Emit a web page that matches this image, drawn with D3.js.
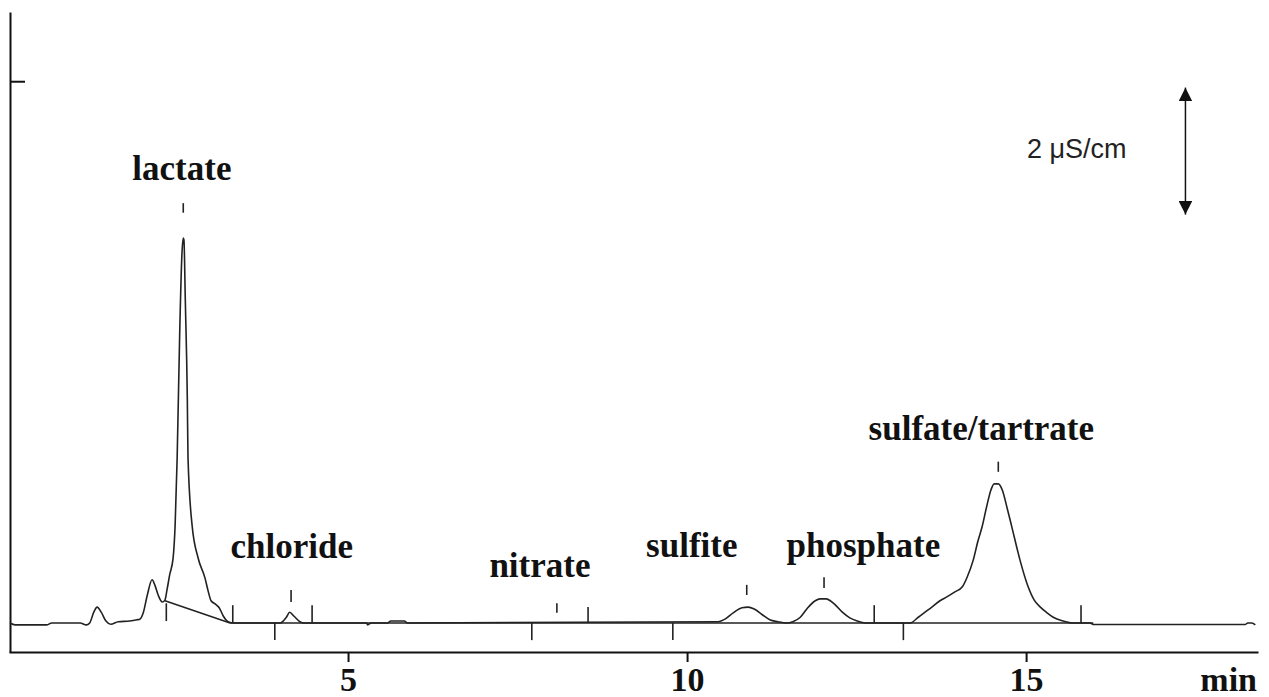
<!DOCTYPE html>
<html><head><meta charset="utf-8">
<script src="https://cdn.jsdelivr.net/npm/d3@7"></script>
<style>body{margin:0;background:#fff} svg{display:block}</style>
</head><body><svg id="c" width="1269" height="697"></svg>
<script>
// Chromatogram trace: retention time (min) and conductivity signal (µS/cm above baseline)
const traceTime = [0.015,0.09,0.56,0.63,1.05,1.14,1.19,1.25,1.30,1.36,1.43,1.50,1.61,1.78,1.89,1.93,1.98,2.04,2.11,2.15,2.20,2.26,2.30,2.33,2.37,2.42,2.45,2.48,2.52,2.55,2.57,2.58,2.60,2.63,2.64,2.70,2.79,2.89,2.94,2.98,3.04,3.10,3.16,3.23,3.32,4.00,4.09,4.14,4.20,4.29,4.35,5.27,5.29,5.34,5.58,5.63,5.83,5.88,10.46,10.56,10.68,10.81,10.90,10.99,11.11,11.22,11.34,11.46,11.56,11.67,11.78,11.89,11.96,12.05,12.17,12.29,12.40,12.51,12.63,13.29,13.41,13.51,13.61,13.73,13.83,13.95,14.06,14.13,14.22,14.29,14.35,14.42,14.48,14.53,14.59,14.65,14.72,14.79,14.91,15.03,15.12,15.21,15.31,15.40,15.55,15.68,15.94,16.00,18.23,18.27,18.33,18.38];
const traceSignal = [0,-0.03,-0.03,0,0,-0.03,0,0.17,0.25,0.17,0.03,-0.02,0.02,0.03,0.05,0.06,0.16,0.44,0.68,0.60,0.44,0.33,0.36,0.52,0.76,1.02,1.54,2.60,4.69,5.80,6.06,6.03,5.09,3.51,2.60,1.54,1.02,0.71,0.49,0.35,0.30,0.24,0.11,0.02,0,0,0.09,0.17,0.11,0.02,0,0,-0.03,0,0,0.03,0.03,0,0.02,0.06,0.16,0.24,0.25,0.22,0.13,0.05,0.02,0,0.02,0.09,0.24,0.35,0.38,0.38,0.30,0.17,0.08,0.03,0,0,0.09,0.17,0.25,0.35,0.41,0.49,0.57,0.72,0.99,1.29,1.51,1.84,2.09,2.19,2.19,2.09,1.81,1.51,0.99,0.57,0.36,0.25,0.16,0.09,0.03,0,0,-0.025,-0.025,0,0,-0.03];

// Integration baselines (start time, start signal, end time, end signal)
const baseT0 = [2.30, 3.26];
const baseV0 = [0.35, 0];
const baseT1 = [3.26, 15.99];
const baseV1 = [0, 0];

// Peak start/end markers (time, signal from, signal to)
const markTime = [2.32, 3.30, 3.92, 4.47, 7.71, 8.54, 9.79, 12.76, 13.19, 15.81];
const markFrom = [0.31, 0.28, 0, 0.28, 0, 0.25, 0, 0.28, 0, 0.28];
const markTo   = [0.03, 0, -0.27, 0, -0.27, 0, -0.27, 0, -0.27, 0];

// Peak identification
const peakNames   = ["lactate","chloride","nitrate","sulfite","phosphate","sulfate/tartrate"];
const peakTime    = [2.57, 4.16, 8.08, 10.88, 12.02, 14.59];
const peakTickTop = [6.61, 0.52, 0.31, 0.60, 0.72, 2.54];
const peakTickBot = [6.46, 0.33, 0.16, 0.44, 0.55, 2.38];
const labelTime   = [2.55, 4.17, 7.83, 10.07, 12.60, 14.34];
const labelSignal = [6.98, 1.02, 0.72, 1.04, 1.04, 2.88];

// Axes
const xTicks = [5, 10, 15];
const yTicks = [8.53];
const xDomain = [0, 18.42];
const yDomain = [-0.457, 9.62];
// Scale bar: 2 µS/cm
const scaleTime = 17.35;
const scaleFrom = 6.43, scaleTo = 8.43;
const scaleText = "2 \u03bcS/cm";
const xUnit = "min";

const svg = d3.select("#c");
const x = d3.scaleLinear().domain(xDomain).range([9, 1258]);
const y = d3.scaleLinear().domain(yDomain).range([652, 12]);
const serif = "'Liberation Serif','Times New Roman',serif";

// axes
const xa = svg.append("g").attr("transform","translate(0,652)")
  .call(d3.axisBottom(x).tickValues(xTicks).tickSize(10).tickSizeOuter(0).tickPadding(5));
xa.selectAll("path,line").attr("stroke","#111").attr("stroke-width",2);
xa.selectAll("text").attr("font-family",serif).attr("font-weight","bold").attr("font-size",34).attr("fill","#111");

const ya = svg.append("g").attr("transform","translate(10,0)")
  .call(d3.axisRight(y).tickValues(yTicks).tickSize(15).tickSizeOuter(0).tickFormat(""));
ya.selectAll("path,line").attr("stroke","#111").attr("stroke-width",2);

svg.append("text").attr("x",1257).attr("y",691).attr("text-anchor","end")
  .attr("font-family",serif).attr("font-weight","bold").attr("font-size",34).attr("fill","#111").text(xUnit);

// integration baselines
svg.append("g").selectAll("line").data(baseT0).join("line")
  .attr("x1",(d,i)=>x(baseT0[i])).attr("y1",(d,i)=>y(baseV0[i]))
  .attr("x2",(d,i)=>x(baseT1[i])).attr("y2",(d,i)=>y(baseV1[i]))
  .attr("stroke","#222").attr("stroke-width",1.5);

// trace
const pts = traceTime.map((t,i)=>[t, traceSignal[i]]);
svg.append("path").datum(pts)
  .attr("d", d3.line().x(d=>x(d[0])).y(d=>y(d[1])).curve(d3.curveMonotoneX))
  .attr("fill","none").attr("stroke","#222").attr("stroke-width",1.6).attr("stroke-linejoin","round");

// start/end markers
svg.append("g").selectAll("line").data(markTime).join("line")
  .attr("x1",d=>x(d)).attr("x2",d=>x(d))
  .attr("y1",(d,i)=>y(markFrom[i])).attr("y2",(d,i)=>y(markTo[i]))
  .attr("stroke","#222").attr("stroke-width",1.6);

// peak ticks
svg.append("g").selectAll("line").data(peakTime).join("line")
  .attr("x1",d=>x(d)).attr("x2",d=>x(d))
  .attr("y1",(d,i)=>y(peakTickTop[i])).attr("y2",(d,i)=>y(peakTickBot[i]))
  .attr("stroke","#222").attr("stroke-width",1.6);

// peak labels
svg.append("g").selectAll("text").data(peakNames).join("text")
  .attr("x",(d,i)=>x(labelTime[i])).attr("y",(d,i)=>y(labelSignal[i]))
  .attr("text-anchor","middle").attr("font-family",serif).attr("font-weight","bold")
  .attr("font-size",35).attr("fill","#111").text(d=>d);

// scale bar
const defs = svg.append("defs");
defs.append("marker").attr("id","ah").attr("viewBox","0 0 10 10").attr("refX",10).attr("refY",5)
  .attr("markerWidth",9).attr("markerHeight",9).attr("markerUnits","strokeWidth").attr("orient","auto-start-reverse")
  .append("path").attr("d","M0,0 L10,5 L0,10 Z").attr("fill","#111");
svg.append("line").attr("x1",x(scaleTime)).attr("x2",x(scaleTime))
  .attr("y1",y(scaleFrom)).attr("y2",y(scaleTo))
  .attr("stroke","#111").attr("stroke-width",1.5)
  .attr("marker-start","url(#ah)").attr("marker-end","url(#ah)");
svg.append("text").attr("x",1027).attr("y",158)
  .attr("font-family","'Liberation Sans',Arial,sans-serif").attr("font-size",27).attr("fill","#222").text(scaleText);
</script></body></html>
